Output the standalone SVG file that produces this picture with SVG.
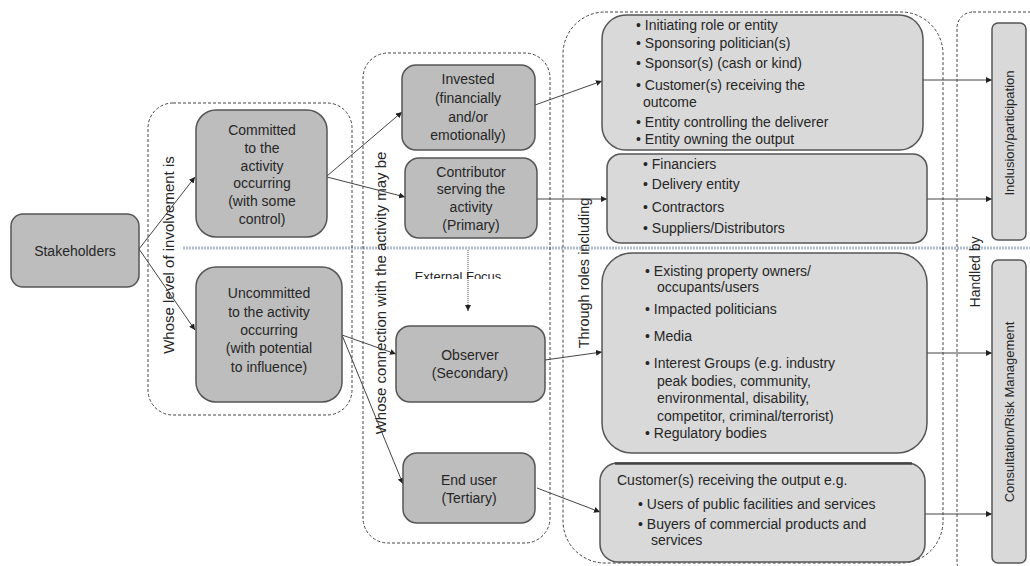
<svg xmlns="http://www.w3.org/2000/svg" width="1030" height="566" viewBox="0 0 1030 566">
  <defs>
    <marker id="arrow" viewBox="0 0 6 6" refX="6" refY="3" markerWidth="6" markerHeight="6" markerUnits="userSpaceOnUse" orient="auto">
      <path d="M0,0 L6,3 L0,6 z" fill="#222"/>
    </marker>
    <clipPath id="focusClip">
      <rect x="380" y="255" width="160" height="24"/>
    </clipPath>
    <style>
      .group { fill: none; stroke: #444; stroke-width: 1; stroke-dasharray: 3 2; }
      .dark { fill: #bdbdbd; stroke: #555; stroke-width: 1.5; }
      .light { fill: #d9d9d9; stroke: #555; stroke-width: 1.5; }
      text { font-family: "Liberation Sans", Arial, sans-serif; fill: #262626; font-size: 14px; }
      .c { text-anchor: middle; }
      .vlabel { font-size: 15px; text-anchor: middle; }
      .edge { fill: none; stroke: #444; stroke-width: 1; marker-end: url(#arrow); }
      .divider { stroke: #b3bccb; stroke-width: 3; stroke-dasharray: 2 1; fill: none; }
    </style>
  </defs>

  <rect width="1030" height="566" fill="#ffffff"/>

  <!-- divider between internal and external focus -->
  <line class="divider" x1="183" y1="248" x2="1030" y2="248"/>

  <!-- dashed grouping frames -->
  <g id="frames">
    <rect class="group" x="148" y="103" width="204" height="312" rx="25"/>
    <rect class="group" x="363" y="53" width="187" height="490" rx="25"/>
    <rect class="group" x="563" y="12" width="380" height="551" rx="42"/>
    <rect class="group" x="957" y="12" width="90" height="566" rx="16"/>
    <text class="vlabel" transform="translate(174,255) rotate(-90)">Whose level of involvement is</text>
    <text class="vlabel" transform="translate(386,293) rotate(-90)">Whose connection with the activity may be</text>
    <text class="vlabel" style="font-size:14.5px" transform="translate(589,273) rotate(-90)">Through roles including</text>
    <text class="vlabel" style="font-size:14px" transform="translate(980,272) rotate(-90)">Handled by</text>
  </g>

  <!-- connectors -->
  <g id="connectors">
    <path class="edge" d="M139,249 L195,177"/>
    <path class="edge" d="M139,249 L195,330"/>
    <path class="edge" d="M327,176 L402,112"/>
    <path class="edge" d="M327,177 L405,197"/>
    <path class="edge" d="M342,335 L396,354"/>
    <path class="edge" d="M342,335 L403,484"/>
    <path class="edge" d="M535,105 L602,81"/>
    <path class="edge" d="M537,199 L607,199"/>
    <path class="edge" d="M545,360 L602,352"/>
    <path class="edge" d="M537,488 L600,512"/>
    <path class="edge" d="M923,80 L992,80"/>
    <path class="edge" d="M927,199 L992,199"/>
    <path class="edge" d="M927,353 L992,353"/>
    <path class="edge" d="M925,514 L992,514"/>
    <path class="edge" style="stroke-dasharray:1 1" d="M468,250 L468,311"/>
  </g>

  <text class="c" style="font-size:13px" x="458" y="281" clip-path="url(#focusClip)">External Focus</text>

  <g id="stakeholders">
    <rect class="dark" x="11" y="214" width="128" height="73" rx="12"/>
    <text class="c" x="75" y="256">Stakeholders</text>
  </g>

  <g id="committed">
    <rect class="dark" x="196" y="110" width="131" height="127" rx="20"/>
    <text class="c" x="262" y="135">Committed</text>
    <text class="c" x="262" y="153">to the</text>
    <text class="c" x="262" y="171">activity</text>
    <text class="c" x="262" y="188">occurring</text>
    <text class="c" x="262" y="206">(with some</text>
    <text class="c" x="262" y="224">control)</text>
  </g>

  <g id="uncommitted">
    <rect class="dark" x="196" y="267" width="146" height="135" rx="20"/>
    <text class="c" x="269" y="298">Uncommitted</text>
    <text class="c" x="269" y="317">to the activity</text>
    <text class="c" x="269" y="335">occurring</text>
    <text class="c" x="269" y="353">(with potential</text>
    <text class="c" x="269" y="372">to influence)</text>
  </g>

  <g id="invested">
    <rect class="dark" x="402" y="65" width="133" height="85" rx="14"/>
    <text class="c" x="468" y="84">Invested</text>
    <text class="c" x="468" y="103">(financially</text>
    <text class="c" x="468" y="122">and/or</text>
    <text class="c" x="468" y="140">emotionally)</text>
  </g>

  <g id="contributor">
    <rect class="dark" x="405" y="158" width="132" height="80" rx="14"/>
    <text class="c" x="471" y="177">Contributor</text>
    <text class="c" x="471" y="194">serving the</text>
    <text class="c" x="471" y="212">activity</text>
    <text class="c" x="471" y="230">(Primary)</text>
  </g>

  <g id="observer">
    <rect class="dark" x="396" y="326" width="149" height="76" rx="14"/>
    <text class="c" x="470" y="360">Observer</text>
    <text class="c" x="470" y="378">(Secondary)</text>
  </g>

  <g id="end-user">
    <rect class="dark" x="403" y="453" width="132" height="70" rx="14"/>
    <text class="c" x="469" y="485">End user</text>
    <text class="c" x="469" y="503">(Tertiary)</text>
  </g>

  <g id="roles-invested">
    <rect class="light" x="602" y="15" width="321" height="135" rx="24"/>
    <text x="636" y="30">• Initiating role or entity</text>
    <text x="636" y="48">• Sponsoring politician(s)</text>
    <text x="636" y="68">• Sponsor(s) (cash or kind)</text>
    <text x="636" y="90">• Customer(s) receiving the</text>
    <text x="643" y="107">outcome</text>
    <text x="636" y="127">• Entity controlling the deliverer</text>
    <text x="636" y="144">• Entity owning the output</text>
  </g>

  <g id="roles-primary">
    <rect class="light" x="607" y="154" width="320" height="89" rx="14"/>
    <text x="643" y="169">• Financiers</text>
    <text x="643" y="189">• Delivery entity</text>
    <text x="643" y="212">• Contractors</text>
    <text x="643" y="233">• Suppliers/Distributors</text>
  </g>

  <g id="roles-secondary">
    <rect class="light" x="602" y="253" width="325" height="200" rx="30"/>
    <text x="645" y="276">•  Existing property owners/</text>
    <text x="657" y="292">occupants/users</text>
    <text x="645" y="314">•  Impacted politicians</text>
    <text x="645" y="341">•  Media</text>
    <text x="645" y="368">•  Interest Groups (e.g. industry</text>
    <text x="657" y="386">peak bodies, community,</text>
    <text x="657" y="403">environmental, disability,</text>
    <text x="657" y="421">competitor, criminal/terrorist)</text>
    <text x="645" y="438">•  Regulatory bodies</text>
  </g>

  <g id="roles-tertiary">
    <rect class="light" x="600" y="463" width="325" height="99" rx="18"/>
    <line x1="615" y1="463.5" x2="912" y2="463.5" stroke="#444" stroke-width="2.5"/>
    <text x="617" y="485">Customer(s) receiving the output e.g.</text>
    <text x="638" y="509">•  Users of public facilities and services</text>
    <text x="638" y="529">•  Buyers of commercial products and</text>
    <text x="651" y="545">services</text>
  </g>

  <g id="inclusion">
    <rect class="light" x="992" y="23" width="34" height="217" rx="6"/>
    <text class="c" style="font-size:13px" transform="translate(1014,133) rotate(-90)">Inclusion/participation</text>
  </g>

  <g id="consultation">
    <rect class="light" x="992" y="260" width="34" height="303" rx="6"/>
    <text class="c" style="font-size:13px" transform="translate(1014,412) rotate(-90)">Consultation/Risk Management</text>
  </g>
</svg>
